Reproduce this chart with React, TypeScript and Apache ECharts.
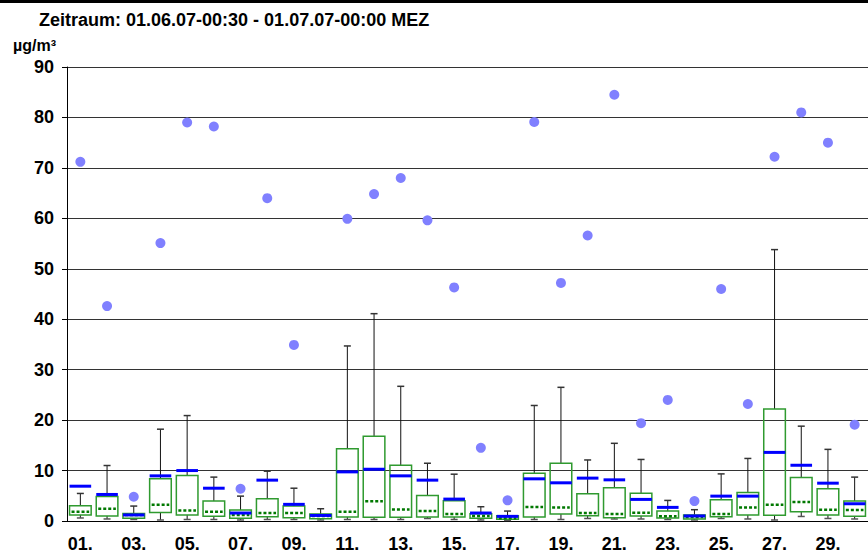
import React, { useEffect, useRef } from "react";
import * as echarts from "echarts";

// Days of June 2007
const days: string[] = Array.from({ length: 30 }, (_, i) => String(i + 1).padStart(2, "0") + ".");

// Daily distribution of half-hourly values (µg/m³)
const whiskerLow: number[] = [0.6, 0.4, 0.3, 0.2, 0.3, 0.3, 0.2, 0.3, 0.3, 0.2, 0.3, 0.3, 0.3, 0.5, 0.3, 0.2, 0.1, 0.3, 0.3, 0.5, 0.4, 0.4, 0.3, 0.2, 0.5, 0.4, 0.2, 0.9, 0.5, 0.4];
const quart1: number[] = [1.2, 1.0, 0.53, 1.7, 1.2, 0.92, 0.53, 0.86, 0.66, 0.46, 0.8, 0.72, 0.72, 0.79, 0.8, 0.53, 0.33, 0.8, 1.38, 1.05, 0.66, 1.0, 0.6, 0.4, 0.86, 1.18, 1.12, 1.84, 1.18, 0.92];
const medians: number[] = [1.84, 2.43, 1.2, 3.2, 2.1, 1.84, 1.2, 1.6, 1.58, 1.0, 1.84, 3.9, 2.3, 1.97, 1.38, 1.0, 0.53, 2.76, 2.7, 1.58, 1.38, 1.64, 0.92, 0.8, 1.38, 2.7, 3.22, 3.75, 2.24, 2.17];
const quart3: number[] = [3.0, 4.87, 1.5, 8.36, 9.0, 3.95, 2.17, 4.4, 2.96, 1.38, 14.3, 16.8, 11.05, 5.07, 4.0, 1.45, 1.05, 9.47, 11.45, 5.4, 6.58, 5.5, 1.97, 1.18, 4.2, 5.66, 22.2, 8.6, 6.38, 3.95];
const whiskerHigh: number[] = [5.46, 11.0, 2.96, 18.2, 20.9, 8.7, 4.93, 9.87, 6.5, 2.43, 34.7, 41.1, 26.7, 11.45, 9.28, 2.83, 1.97, 22.9, 26.5, 12.1, 15.4, 12.2, 4.08, 2.24, 9.34, 12.4, 53.8, 18.8, 14.2, 8.7];
const means: number[] = [6.9, 5.26, 1.2, 8.95, 10.0, 6.5, 1.58, 8.1, 3.3, 1.1, 9.74, 10.26, 8.95, 8.1, 4.34, 1.58, 0.92, 8.36, 7.57, 8.5, 8.16, 4.28, 2.7, 1.0, 4.93, 4.93, 13.6, 11.05, 7.5, 3.42];
const maxima: (number | null)[] = [71.2, 42.6, 4.8, 55.1, 79.0, 78.2, 6.4, 64.0, 34.9, null, 59.9, 64.8, 68.0, 59.6, 46.3, 14.5, 4.1, 79.1, 47.2, 56.6, 84.5, 19.4, 24.0, 3.95, 46.0, 23.2, 72.2, 81.0, 75.0, 19.1];

const yTicks = { min: 0, max: 90, interval: 10 };

const FONT = "'Liberation Sans', Arial, Helvetica, sans-serif";

export default function App() {
  const ref = useRef<HTMLDivElement>(null);

  useEffect(() => {
    document.body.style.margin = "0";
    if (!ref.current) return;
    const chart = echarts.init(ref.current, null, { renderer: "svg" });

    const boxData = days.map((_, i) => [
      i,
      whiskerLow[i],
      quart1[i],
      medians[i],
      quart3[i],
      whiskerHigh[i],
      means[i],
    ]);

    const option: any = {
      animation: false,
      backgroundColor: "#ffffff",
      textStyle: { fontFamily: FONT },
      grid: { left: 67, top: 67, width: 812, height: 456, containLabel: false },
      graphic: [
        { type: "rect", left: 0, top: 0, shape: { x: 0, y: 0, width: 868, height: 3 }, style: { fill: "#000" } },
        {
          type: "text",
          left: 39,
          top: 11,
          style: { text: "Zeitraum: 01.06.07-00:30 - 01.07.07-00:00 MEZ", font: `bold 18px ${FONT}`, fill: "#000" },
        },
        {
          type: "text",
          left: 13,
          top: 37,
          style: { text: "µg/m³", font: `bold 16px ${FONT}`, fill: "#000" },
        },
      ],
      xAxis: {
        type: "category",
        data: days,
        boundaryGap: true,
        axisLine: { lineStyle: { color: "#000", width: 1 } },
        axisTick: { alignWithLabel: true, interval: 0, length: 11, lineStyle: { color: "#222" } },
        axisLabel: { interval: 1, margin: 14, color: "#000", fontWeight: "bold", fontSize: 18, fontFamily: FONT },
        splitLine: { show: false },
      },
      yAxis: {
        type: "value",
        min: yTicks.min,
        max: yTicks.max,
        interval: yTicks.interval,
        axisLine: { show: true, lineStyle: { color: "#000", width: 1 } },
        axisTick: { show: true, length: 5, lineStyle: { color: "#000" } },
        axisLabel: { margin: 13, color: "#000", fontWeight: "bold", fontSize: 18, fontFamily: FONT },
        splitLine: { show: true, lineStyle: { color: "#333", width: 1 } },
      },
      series: [
        {
          type: "custom",
          data: boxData,
          encode: { x: 0, y: [1, 2, 3, 4, 5, 6] },
          z: 3,
          renderItem: (params: any, api: any) => {
            const idx = api.value(0);
            const lo = api.coord([idx, api.value(1)]);
            const q1 = api.coord([idx, api.value(2)]);
            const md = api.coord([idx, api.value(3)]);
            const q3 = api.coord([idx, api.value(4)]);
            const hi = api.coord([idx, api.value(5)]);
            const mn = api.coord([idx, api.value(6)]);
            const band = api.size([1, 0])[0];
            const cx = lo[0];
            const bw = band * 0.81;
            const cw = 7;
            const whisk = { stroke: "#111", lineWidth: 1 };
            return {
              type: "group",
              children: [
                { type: "line", shape: { x1: cx, y1: lo[1], x2: cx, y2: q1[1] }, style: whisk },
                { type: "line", shape: { x1: cx, y1: q3[1], x2: cx, y2: hi[1] }, style: whisk },
                { type: "line", shape: { x1: cx - cw / 2, y1: hi[1], x2: cx + cw / 2, y2: hi[1] }, style: { stroke: "#333", lineWidth: 1.5 } },
                { type: "line", shape: { x1: cx - cw / 2, y1: lo[1], x2: cx + cw / 2, y2: lo[1] }, style: { stroke: "#555", lineWidth: 1.5 } },
                {
                  type: "rect",
                  shape: { x: cx - bw / 2, y: q3[1], width: bw, height: q1[1] - q3[1] },
                  style: { fill: "none", stroke: "#2f9a2f", lineWidth: 1.5 },
                },
                {
                  type: "line",
                  shape: { x1: cx - bw / 2 + 2, y1: md[1], x2: cx + bw / 2 - 2, y2: md[1] },
                  style: { stroke: "#007800", lineWidth: 2.5, lineDash: [3, 2] },
                },
                {
                  type: "line",
                  shape: { x1: cx - bw / 2, y1: mn[1], x2: cx + bw / 2, y2: mn[1] },
                  style: { stroke: "#0000ff", lineWidth: 3 },
                },
              ],
            };
          },
        },
        {
          type: "scatter",
          data: maxima.map((v) => (v === null ? "-" : v)),
          symbol: "circle",
          symbolSize: 10,
          itemStyle: { color: "#8080ff", opacity: 1 },
          z: 4,
        },
      ],
    };

    chart.setOption(option);
    return () => chart.dispose();
  }, []);

  return <div ref={ref} style={{ width: 868, height: 553 }} />;
}
